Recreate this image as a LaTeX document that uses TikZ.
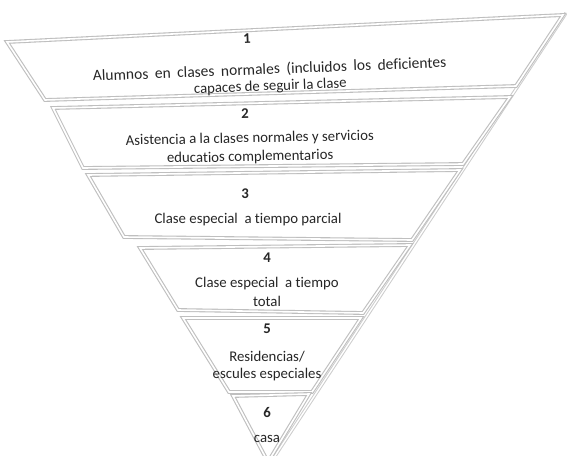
\documentclass[tikz,border=0pt]{standalone}
\usepackage{fontspec}
\setmainfont[Ligatures={NoCommon}]{Carlito}
\begin{document}
\begin{tikzpicture}[x=1pt,y=-1pt,
  band/.style={draw=gray!50, double=white, double distance=1.6pt, line width=1.1pt, fill=white, line join=miter},
  edge/.style={draw=gray!40, double=white, double distance=1.4pt, line width=1pt},
  lbl/.style={font=\fontsize{14.8}{17}\selectfont, text=black!85, inner sep=0pt, align=center},
  num/.style={font=\fontsize{14.8}{17}\selectfont\bfseries, text=black!85, inner sep=0pt, anchor=base}]
\useasboundingbox (0,0) rectangle (567,455);
% outer right edge
\coordinate (rt) at (566,13);
\coordinate (ap) at (271,462);
\draw[edge] (rt) -- (ap);
% bands
\draw[band] (7,42) -- (563,15) -- (516,86) -- (45,100) -- cycle;
\draw[band] (53,108) -- (510,97) -- (463,164) -- (83,168) -- cycle;
\draw[band] (88,175) -- (460,170) -- (412,240) -- (124,237) -- cycle;
\draw[band] (140,248) -- (410,245) -- (363,313) -- (178,310) -- cycle;
\draw[band] (183,318) -- (361,318) -- (312,392) -- (229,392) -- cycle;
\draw[band] (233,396) -- (309,394) -- (268,462) -- cycle;
% texts
\node[num, rotate=2] (n1) at (247,43) {1};
\node[lbl, rotate=2.2, font=\fontsize{14.8}{16.5}\selectfont] (t1) at (270,78)
  {{\fontsize{15.5}{16.5}\selectfont\spaceskip=0.42em\relax Alumnos en clases normales (incluidos los deficientes}\\capaces de seguir la clase\hspace{42pt}};
\node[num, rotate=1.5] (n2) at (245,118) {2};
\node[lbl, rotate=1.2, font=\fontsize{14.8}{18.5}\selectfont] (t2) at (250,148) {Asistencia a la clases normales y servicios\\educatios complementarios};
\node[num] (n3) at (245,198) {3};
\node[lbl, anchor=base] (t3) at (248,223) {Clase especial~ a tiempo parcial};
\node[num] (n4) at (267,262) {4};
\node[lbl, font=\fontsize{14.8}{19}\selectfont] (t4) at (267,292) {Clase especial~ a tiempo\\total};
\node[num] (n5) at (267,333) {5};
\node[lbl, font=\fontsize{14.8}{16.5}\selectfont] (t5) at (267,366) {Residencias/\\escules especiales};
\node[num] (n6) at (267,417) {6};
\node[lbl, anchor=base] (t6) at (267,442) {casa};
\end{tikzpicture}
\end{document}
